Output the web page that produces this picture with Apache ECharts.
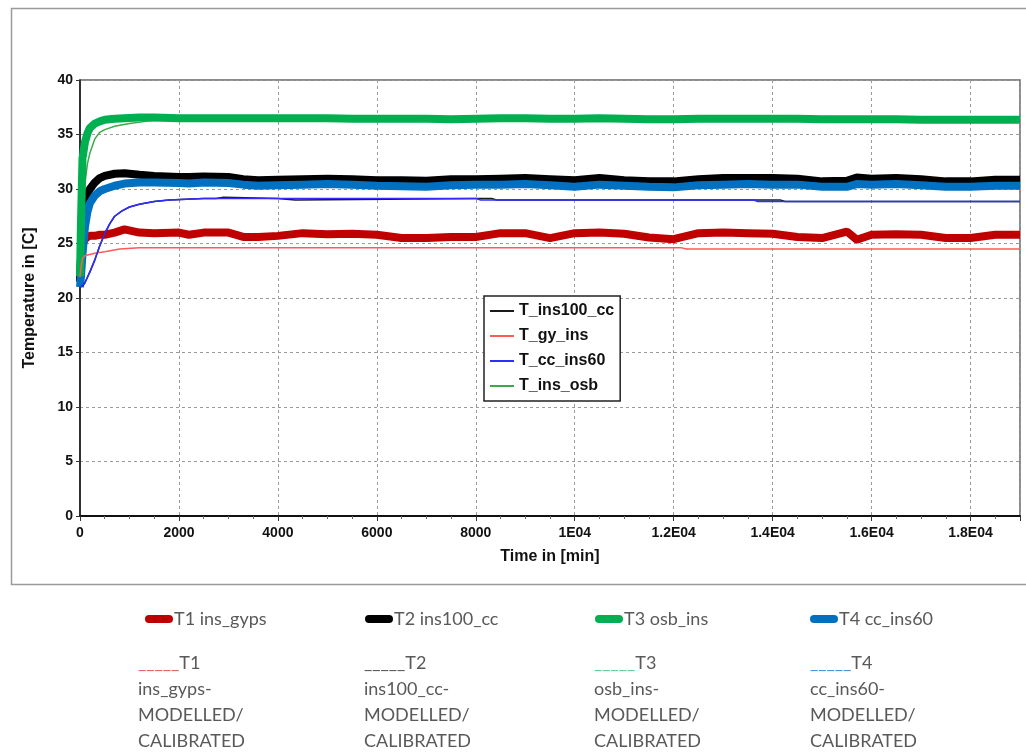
<!DOCTYPE html>
<html>
<head>
<meta charset="utf-8">
<script src="https://cdn.jsdelivr.net/npm/echarts@6/dist/echarts.min.js"></script>
<style>
  html, body { margin: 0; padding: 0; background: #fff; }
  #chart { width: 1026px; height: 752px; }
</style>
</head>
<body>
<div id="chart"></div>
<script>
// measured curves (thick), time in min
const tMeas = [0, 20, 50, 100, 150, 200, 300, 400, 500, 700, 900, 1200, 1500, 2000, 2200, 2500, 3000, 3300, 3600, 4000,
  4500, 5000, 5500, 6000, 6500, 7000, 7500, 8000, 8500, 9000, 9500, 10000, 10500, 11000, 11500, 12000, 12500, 13000, 13500, 14000,
  14500, 15000, 15500, 15700, 16000, 16500, 17000, 17500, 18000, 18500, 19000];
const t1Meas = [21.8, 23.6, 24.9, 25.4, 25.6, 25.7, 25.7, 25.8, 25.8, 26.0, 26.3, 26.0, 25.95, 26.0, 25.8, 26.0, 26.0, 25.6, 25.6, 25.7,
  25.95, 25.85, 25.9, 25.8, 25.5, 25.5, 25.6, 25.6, 25.95, 25.95, 25.5, 25.95, 26.0, 25.9, 25.55, 25.4, 25.95, 26.0, 25.95, 25.9,
  25.6, 25.5, 26.1, 25.35, 25.8, 25.85, 25.8, 25.5, 25.5, 25.8, 25.8];
const t2Meas = [21.5, 23.5, 26.5, 28.5, 29.5, 30.0, 30.6, 31.0, 31.2, 31.4, 31.45, 31.3, 31.2, 31.1, 31.1, 31.15, 31.1, 30.9, 30.8, 30.85,
  30.9, 30.95, 30.9, 30.8, 30.8, 30.75, 30.9, 30.9, 30.95, 31.0, 30.9, 30.8, 31.0, 30.8, 30.7, 30.7, 30.9, 31.0, 31.0, 31.0,
  30.95, 30.7, 30.75, 31.05, 30.95, 31.0, 30.9, 30.7, 30.7, 30.85, 30.85];
const t3Meas = [22.0, 27.0, 32.8, 34.3, 35.1, 35.6, 36.0, 36.2, 36.35, 36.45, 36.5, 36.55, 36.55, 36.5, 36.5, 36.5, 36.5, 36.5, 36.5, 36.5,
  36.5, 36.5, 36.45, 36.45, 36.45, 36.45, 36.4, 36.45, 36.5, 36.5, 36.45, 36.45, 36.5, 36.45, 36.4, 36.4, 36.45, 36.45, 36.45, 36.45,
  36.45, 36.4, 36.4, 36.4, 36.4, 36.4, 36.35, 36.35, 36.35, 36.35, 36.35];
const t4Meas = [21.0, 22.0, 24.0, 26.5, 27.9, 28.7, 29.4, 29.8, 30.0, 30.3, 30.5, 30.6, 30.6, 30.55, 30.5, 30.6, 30.55, 30.4, 30.3, 30.35,
  30.4, 30.45, 30.4, 30.3, 30.25, 30.2, 30.35, 30.4, 30.4, 30.45, 30.35, 30.2, 30.4, 30.3, 30.2, 30.15, 30.35, 30.4, 30.45, 30.4,
  30.4, 30.2, 30.2, 30.45, 30.4, 30.45, 30.35, 30.2, 30.2, 30.3, 30.3];

// modelled curves (thin)
const tGy = [0, 20, 50, 100, 200, 300, 500, 800, 1200, 2000, 12150, 12250, 19000];
const gyMod = [21.9, 22.8, 23.6, 23.9, 24.0, 24.1, 24.25, 24.5, 24.6, 24.62, 24.62, 24.5, 24.5];
const tIns100 = [0, 50, 100, 200, 300, 400, 500, 600, 700, 850, 1000, 1200, 1500, 1800, 2500, 2750, 2760, 2900, 2910,
  4000, 4010, 4350, 4360, 8100, 8320, 8420, 14150, 14250, 19000];
const ins100Mod = [21.0, 21.1, 21.4, 22.4, 23.5, 24.8, 25.9, 26.8, 27.5, 28.0, 28.35, 28.6, 28.85, 29.0, 29.12, 29.12, 29.24, 29.24, 29.12,
  29.12, 29.0, 29.0, 29.12, 29.12, 29.12, 29.0, 29.0, 28.85, 28.85];
const tCc = [0, 50, 100, 200, 300, 400, 500, 600, 700, 850, 1000, 1200, 1500, 1800, 2500, 8000, 8100, 13600, 13700, 19000];
const ccMod = [21.0, 21.1, 21.4, 22.4, 23.5, 24.8, 25.9, 26.8, 27.5, 28.0, 28.35, 28.6, 28.85, 29.0, 29.12, 29.12, 29.0, 29.0, 28.85, 28.85];
const tOsb = [0, 20, 50, 100, 150, 200, 300, 400, 500, 700, 1000, 1400, 2000, 19000];
const osbMod = [22.0, 24.5, 27.5, 30.5, 32.3, 33.3, 34.6, 35.2, 35.45, 35.75, 36.0, 36.25, 36.35, 36.2];

const xTicks = [0, 2000, 4000, 6000, 8000, 10000, 12000, 14000, 16000, 18000];
const xTickLabels = ['0', '2000', '4000', '6000', '8000', '1E04', '1.2E04', '1.4E04', '1.6E04', '1.8E04'];

const measNames = ['T1 ins_gyps', 'T2 ins100_cc', 'T3 osb_ins', 'T4 cc_ins60'];
const modNames = ['T_ins100_cc', 'T_gy_ins', 'T_cc_ins60', 'T_ins_osb'];
const bottomLabels = [
  ['T1', 'ins_gyps-'],
  ['T2', 'ins100_cc-'],
  ['T3', 'osb_ins-'],
  ['T4', 'cc_ins60-']
];

function pairs(ts, vs) {
  let out = [];
  for (let i = 0; i < ts.length; i++) {
    out.push([ts[i], vs[i]]);
  }
  return out;
}

const thick = function (name, color, ts, vs) {
  return {
    name: name, type: 'line', data: pairs(ts, vs),
    showSymbol: false, symbol: 'none',
    lineStyle: { width: 8, color: color }, itemStyle: { color: color },
    z: 2
  };
};
const thin = function (name, color, ts, vs, z) {
  return {
    name: name, type: 'line', data: pairs(ts, vs),
    showSymbol: false, symbol: 'none',
    lineStyle: { width: 1.5, color: color }, itemStyle: { color: color },
    z: z
  };
};

const pill = 'path://M4,0 H24 A4,4 0 0 1 24,8 H4 A4,4 0 0 1 4,0 Z';
const colLeft = [145, 365, 595, 810];
const textLeft = [138, 364, 594, 810];
const underColor = ['#e85c5c', '#555555', '#5fcf8a', '#3a8fe0'];

let legends = [{
  data: modNames,
  orient: 'vertical',
  left: 484, top: 296,
  icon: 'rect', itemWidth: 24, itemHeight: 2, itemGap: 7,
  padding: [6, 6, 6, 6],
  backgroundColor: '#fff',
  borderColor: '#222', borderWidth: 1.5,
  textStyle: { fontFamily: 'Arial, "Liberation Sans", sans-serif', fontWeight: 'bold', fontSize: 16, color: '#111', lineHeight: 18 }
}];
for (let i = 0; i < 4; i++) {
  legends.push({
    data: [measNames[i]],
    left: colLeft[i], top: 610,
    icon: pill, itemWidth: 28, itemHeight: 8, itemGap: 0,
    padding: 0,
    textStyle: { fontFamily: 'Lato, "Open Sans", sans-serif', fontSize: 18, color: '#595959', padding: [0, 0, 0, -4] }
  });
}

let graphics = [{
  type: 'rect', left: 9, top: 6, z: -1,
  shape: { width: 1030, height: 576 },
  style: { fill: 'none', stroke: '#9a9a9a', lineWidth: 1.5 }
}];
for (let i = 0; i < 4; i++) {
  graphics.push({
    type: 'text', left: textLeft[i], top: 650,
    style: {
      text: '{u|_____}{t|' + bottomLabels[i][0] + '}\n{t|' + bottomLabels[i][1] + '}\n{t|MODELLED/}\n{t|CALIBRATED}',
      fontFamily: 'Lato, "Open Sans", sans-serif', fontSize: 18, lineHeight: 26, fill: '#595959',
      rich: {
        u: { fill: underColor[i], fontSize: 18, lineHeight: 26, fontFamily: 'Lato, "Open Sans", sans-serif' },
        t: { fill: '#595959', fontSize: 18, lineHeight: 26, fontFamily: 'Lato, "Open Sans", sans-serif' }
      }
    }
  });
}

const myChart = echarts.init(document.getElementById('chart'), null, { renderer: 'canvas' });
const option = {
  animation: false,
  backgroundColor: '#fff',
  legend: legends,
  graphic: graphics,
  grid: {
    left: 80, right: 6, top: 80, bottom: 236,
    show: true, borderColor: '#666', borderWidth: 1.5
  },
  xAxis: {
    type: 'value', min: 0, max: 19000, interval: 2000,
    name: 'Time in [min]', nameLocation: 'middle', nameGap: 33,
    nameTextStyle: { fontFamily: 'Arial, "Liberation Sans", sans-serif', fontWeight: 'bold', fontSize: 16, color: '#111' },
    axisLine: { lineStyle: { color: '#111', width: 2 } },
    axisTick: { show: true, length: 5, lineStyle: { color: '#333' } },
    minorTick: { show: true, splitNumber: 4, length: 3, lineStyle: { color: '#666' } },
    axisLabel: {
      margin: 10, fontFamily: '"Liberation Sans Narrow", "Arial Narrow", Arial, sans-serif',
      fontWeight: 'bold', fontSize: 14, color: '#111',
      formatter: function (v) {
        const k = xTicks.indexOf(v);
        return k >= 0 ? xTickLabels[k] : '';
      }
    },
    splitLine: { show: true, lineStyle: { color: '#9a9a9a', type: [3, 3], width: 1 } }
  },
  yAxis: {
    type: 'value', min: 0, max: 40, interval: 5,
    name: 'Temperature in [C]', nameLocation: 'middle', nameGap: 42,
    nameTextStyle: { fontFamily: 'Arial, "Liberation Sans", sans-serif', fontWeight: 'bold', fontSize: 16, color: '#111' },
    axisLine: { show: true, lineStyle: { color: '#111', width: 1.5 } },
    axisTick: { show: true, length: 4, lineStyle: { color: '#333' } },
    axisLabel: {
      margin: 7, fontFamily: '"Liberation Sans Narrow", "Arial Narrow", Arial, sans-serif',
      fontWeight: 'bold', fontSize: 14, color: '#111'
    },
    splitLine: { show: true, lineStyle: { color: '#9a9a9a', type: [3, 3], width: 1 } }
  },
  series: [
    thick(measNames[0], '#C00000', tMeas, t1Meas),
    thick(measNames[1], '#000000', tMeas, t2Meas),
    thick(measNames[3], '#0070C0', tMeas, t4Meas),
    thin(modNames[3], '#3DAA4A', tOsb, osbMod, 1),
    thick(measNames[2], '#00B050', tMeas, t3Meas),
    thin(modNames[0], '#1a1a1a', tIns100, ins100Mod, 3),
    thin(modNames[1], '#FF5A5A', tGy, gyMod, 3),
    thin(modNames[2], '#2E2EFF', tCc, ccMod, 3)
  ]
};
myChart.setOption(option);
window.onresize = myChart.resize;
</script>
</body>
</html>
